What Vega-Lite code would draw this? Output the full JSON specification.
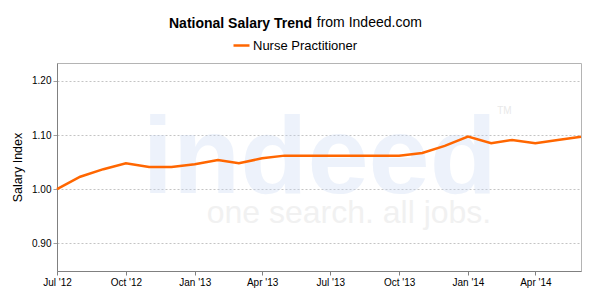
{
  "$schema": "https://vega.github.io/schema/vega-lite/v6.json",
  "width": 524,
  "height": 208,
  "autosize": {"type": "none"},
  "padding": {"left": 57, "top": 63, "right": 15, "bottom": 25},
  "background": "white",
  "config": {
    "font": "Liberation Sans",
    "view": {"stroke": "#b4b4b4", "strokeWidth": 1},
    "legend": {"padding": 0}
  },
  "title": {
    "text": "National Salary Trend",
    "subtitle": "\u200b\u2003\u2003\u2003\u2003\u2003\u2003\u2003\u2003\u2003\u2003\u00a0\u00a0from Indeed.com",
    "anchor": "start",
    "frame": "group",
    "dx": 112,
    "font": "Liberation Sans",
    "fontSize": 14,
    "fontWeight": "bold",
    "color": "#000000",
    "subtitleFont": "Liberation Sans",
    "subtitleFontSize": 14,
    "subtitleFontWeight": "normal",
    "subtitleColor": "#000000",
    "subtitlePadding": -15,
    "offset": 4
  },
  "datasets": {
    "trend": [
      {"month": "2012-07-01T00:00:00", "index": 1.000, "series": "Nurse Practitioner"},
      {"month": "2012-08-01T00:00:00", "index": 1.023, "series": "Nurse Practitioner"},
      {"month": "2012-09-01T00:00:00", "index": 1.037, "series": "Nurse Practitioner"},
      {"month": "2012-10-01T00:00:00", "index": 1.048, "series": "Nurse Practitioner"},
      {"month": "2012-11-01T00:00:00", "index": 1.041, "series": "Nurse Practitioner"},
      {"month": "2012-12-01T00:00:00", "index": 1.041, "series": "Nurse Practitioner"},
      {"month": "2013-01-01T00:00:00", "index": 1.046, "series": "Nurse Practitioner"},
      {"month": "2013-02-01T00:00:00", "index": 1.054, "series": "Nurse Practitioner"},
      {"month": "2013-03-01T00:00:00", "index": 1.048, "series": "Nurse Practitioner"},
      {"month": "2013-04-01T00:00:00", "index": 1.057, "series": "Nurse Practitioner"},
      {"month": "2013-05-01T00:00:00", "index": 1.062, "series": "Nurse Practitioner"},
      {"month": "2013-06-01T00:00:00", "index": 1.062, "series": "Nurse Practitioner"},
      {"month": "2013-07-01T00:00:00", "index": 1.062, "series": "Nurse Practitioner"},
      {"month": "2013-08-01T00:00:00", "index": 1.062, "series": "Nurse Practitioner"},
      {"month": "2013-09-01T00:00:00", "index": 1.062, "series": "Nurse Practitioner"},
      {"month": "2013-10-01T00:00:00", "index": 1.062, "series": "Nurse Practitioner"},
      {"month": "2013-11-01T00:00:00", "index": 1.067, "series": "Nurse Practitioner"},
      {"month": "2013-12-01T00:00:00", "index": 1.080, "series": "Nurse Practitioner"},
      {"month": "2014-01-01T00:00:00", "index": 1.097, "series": "Nurse Practitioner"},
      {"month": "2014-02-01T00:00:00", "index": 1.085, "series": "Nurse Practitioner"},
      {"month": "2014-03-01T00:00:00", "index": 1.091, "series": "Nurse Practitioner"},
      {"month": "2014-04-01T00:00:00", "index": 1.085, "series": "Nurse Practitioner"},
      {"month": "2014-05-01T00:00:00", "index": 1.091, "series": "Nurse Practitioner"},
      {"month": "2014-06-01T00:00:00", "index": 1.097, "series": "Nurse Practitioner"}
    ]
  },
  "layer": [
    {
      "data": {"values": [{}]},
      "mark": {"type": "text", "text": "indeed", "font": "Liberation Sans", "fontWeight": "bold", "fontSize": 110, "align": "center", "baseline": "alphabetic", "color": "#c5d6f3", "opacity": 0.3},
      "encoding": {
        "x": {"datum": {"year": 2013, "month": 6, "date": 17}, "type": "temporal"},
        "y": {"datum": 0.9924, "type": "quantitative"}
      }
    },
    {
      "data": {"values": [{}]},
      "mark": {"type": "text", "text": "one search. all jobs.", "font": "Liberation Sans", "fontSize": 32, "align": "center", "baseline": "alphabetic", "color": "#c8c8c8", "opacity": 0.25},
      "encoding": {
        "x": {"datum": {"year": 2013, "month": 7, "date": 26}, "type": "temporal"},
        "y": {"datum": 0.937, "type": "quantitative"}
      }
    },
    {
      "data": {"values": [{}]},
      "mark": {"type": "text", "text": "TM", "font": "Liberation Sans", "fontSize": 10, "align": "left", "baseline": "alphabetic", "color": "#c8c8c8", "opacity": 0.4},
      "encoding": {
        "x": {"datum": {"year": 2014, "month": 2, "date": 9}, "type": "temporal"},
        "y": {"datum": 1.138, "type": "quantitative"}
      }
    },
    {
      "data": {"name": "trend"},
      "mark": {"type": "line", "strokeWidth": 2.5, "interpolate": "linear"},
      "encoding": {
        "x": {
          "field": "month",
          "type": "temporal",
          "scale": {"domain": [{"year": 2012, "month": 7, "date": 1}, {"year": 2014, "month": 6, "date": 1}], "nice": false},
          "axis": {
            "title": null,
            "values": [
              {"year": 2012, "month": 7, "date": 1},
              {"year": 2012, "month": 10, "date": 1},
              {"year": 2013, "month": 1, "date": 1},
              {"year": 2013, "month": 4, "date": 1},
              {"year": 2013, "month": 7, "date": 1},
              {"year": 2013, "month": 10, "date": 1},
              {"year": 2014, "month": 1, "date": 1},
              {"year": 2014, "month": 4, "date": 1}
            ],
            "format": "%b '%y",
            "grid": false,
            "domainColor": "#808080",
            "tickColor": "#808080",
            "tickSize": 4,
            "labelPadding": 2,
            "labelFont": "Liberation Sans",
            "labelFontSize": 10,
            "labelColor": "#000000",
            "labelFlush": false,
            "labelOverlap": false
          }
        },
        "y": {
          "field": "index",
          "type": "quantitative",
          "scale": {"domain": [0.849, 1.233], "nice": false, "zero": false},
          "axis": {
            "title": "Salary Index",
            "titleFont": "Liberation Sans",
            "titleFontSize": 12.5,
            "titleFontWeight": "normal",
            "titleColor": "#000000",
            "titlePadding": 7,
            "values": [0.9, 1.0, 1.1, 1.2],
            "format": ".2f",
            "grid": true,
            "gridColor": "#c4c4c4",
            "gridDash": [2, 2],
            "gridWidth": 1,
            "domainColor": "#808080",
            "tickColor": "#a0a0a0",
            "tickSize": 4,
            "labelPadding": 2,
            "labelFont": "Liberation Sans",
            "labelFontSize": 10,
            "labelColor": "#000000"
          }
        },
        "color": {
          "field": "series",
          "type": "nominal",
          "scale": {"range": ["#ff6600"]},
          "legend": {
            "title": null,
            "orient": "none",
            "legendX": 175,
            "legendY": -27,
            "symbolType": "stroke",
            "symbolSize": 256,
            "symbolStrokeWidth": 2.5,
            "labelFont": "Liberation Sans",
            "labelFontSize": 13,
            "labelColor": "#000000",
            "labelOffset": 2
          }
        }
      }
    }
  ]
}
